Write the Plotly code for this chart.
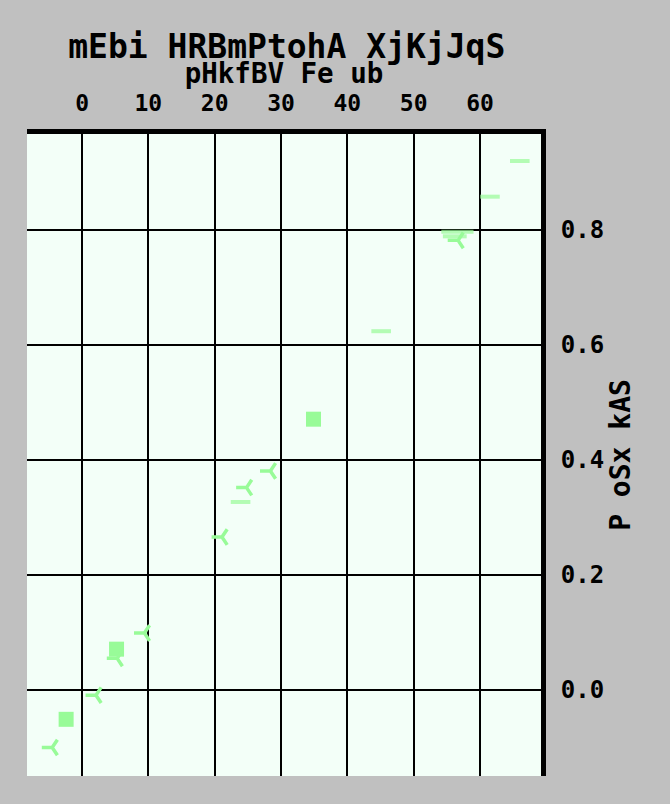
import plotly.graph_objects as go

# Data
sq_x = [-2.4, 5.2, 34.9]
sq_y = [-0.051, 0.071, 0.471]

yl_x = [-4.5, 2.1, 5.3, 9.4, 21.1, 24.8, 28.4, 56.7]
yl_y = [-0.100, -0.009, 0.055, 0.099, 0.266, 0.352, 0.381, 0.782]

dash_x = [23.9, 45.1, 61.5, 66.0, 56.6, 56.2]
dash_y = [0.327, 0.624, 0.858, 0.920, 0.797, 0.789]
dash_size = [14, 14, 14, 14, 23, 17]

GREEN = "#98FB98"
FONT = "DejaVu Sans Mono"

fig = go.Figure()
fig.add_trace(go.Scatter(
    x=sq_x, y=sq_y, mode="markers",
    marker=dict(symbol="square", size=15, color=GREEN, line=dict(width=0)),
))
fig.add_trace(go.Scatter(
    x=dash_x, y=dash_y, mode="markers",
    marker=dict(symbol="line-ew", size=dash_size, color=GREEN,
                line=dict(width=4, color=GREEN)),
))
fig.add_trace(go.Scatter(
    x=yl_x, y=yl_y, mode="markers",
    marker=dict(symbol="y-left", size=13, color=GREEN,
                line=dict(width=3.5, color=GREEN)),
))

fig.update_layout(
    width=670, height=804,
    paper_bgcolor="#C0C0C0",
    plot_bgcolor="#F3FFF8",
    showlegend=False,
    margin=dict(l=27, r=129, t=134, b=28),
    title=dict(text="<b>mEbi HRBmPtohA XjKjJqS</b>", x=0.428, xanchor="center",
               y=0.942, yanchor="middle",
               font=dict(family=FONT, size=33, color="black")),
    xaxis=dict(
        side="top", range=[-8.3, 69.2], dtick=10, tick0=0,
        showgrid=True, gridcolor="black", gridwidth=2,
        zeroline=False,
        showline=True, linecolor="black", linewidth=5,
        ticks="outside", ticklen=9, tickcolor="rgba(0,0,0,0)",
        tickfont=dict(family=FONT, size=23, color="black", weight="bold"),
        title=dict(text="<b>pHkfBV Fe ub</b>", standoff=0,
                   font=dict(family=FONT, size=27.5, color="black")),
    ),
    yaxis=dict(
        side="right", range=[-0.1496, 0.967], dtick=0.2, tick0=0,
        tickformat=".1f",
        showgrid=True, gridcolor="black", gridwidth=2,
        zeroline=False,
        showline=True, linecolor="black", linewidth=5,
        ticks="outside", ticklen=10, tickcolor="rgba(0,0,0,0)",
        tickfont=dict(family=FONT, size=24, color="black", weight="bold"),
        title=dict(text="<b>P oSx kAS</b>", standoff=8,
                   font=dict(family=FONT, size=28, color="black")),
    ),
)

fig.write_html("out.html")
